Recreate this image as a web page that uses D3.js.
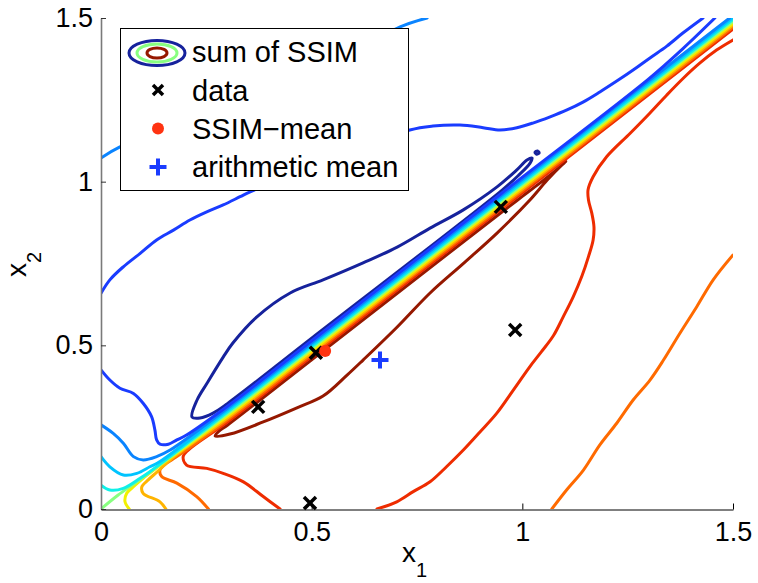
<!DOCTYPE html>
<html><head><meta charset="utf-8">
<script src="https://cdn.jsdelivr.net/npm/d3@7"></script>
<style>
body{margin:0;background:#fff;}
svg{display:block;font-family:"Liberation Sans",Arial,Helvetica,sans-serif;}
</style></head><body>
<svg id="chart" width="758" height="583"></svg>
<script>
// ---- axis ticks ----
const tickValues = [0, 0.5, 1, 1.5];
const tickLabels = ["0", "0.5", "1", "1.5"];

// ---- samples and estimates ----
const dataX1 = [0.373, 0.510, 0.949, 0.983, 0.496];
const dataX2 = [0.312, 0.477, 0.923, 0.547, 0.018];
const ssimMean = [0.532, 0.483];

// ---- contour colours, lowest level (0) to highest (10), jet map ----
const levelColors = ["#16229c", "#1a3cff", "#0a84ff", "#00c4ff", "#10f0e8", "#88ff80",
                     "#f2f000", "#ffb400", "#ff6a00", "#ee2c00", "#951800"];

// ---- contour polylines of the summed SSIM, [x1, x2] ----
const lvl0Loop = [[0.216,0.281],[0.228,0.333],[0.252,0.385],[0.290,0.464],[0.313,0.507],[0.370,0.587],[0.449,0.660],[0.527,0.700],[0.622,0.752],[0.703,0.800],[0.781,0.858],[0.859,0.913],[0.940,0.984],[0.987,1.036],[1.011,1.066],[1.023,1.072],[1.018,1.056],[0.990,1.018],[0.950,0.972],[0.500,0.522],[0.300,0.322],[0.266,0.293],[0.235,0.278]];
const lvl0Dot = [[1.030,1.090],[1.036,1.094],[1.040,1.088],[1.034,1.084]];
const lvl1Upper = [[0,0.659],[0.021,0.700],[0.053,0.740],[0.093,0.781],[0.132,0.822],[0.172,0.852],[0.211,0.883],[0.251,0.908],[0.290,0.929],[0.330,0.954],[0.354,0.969],[0.544,1.066],[0.733,1.158],[0.788,1.170],[0.852,1.173],[0.907,1.165],[0.947,1.158],[0.987,1.165],[1.025,1.179],[1.066,1.198],[1.106,1.219],[1.144,1.243],[1.184,1.274],[1.225,1.308],[1.263,1.341],[1.303,1.378],[1.343,1.414],[1.381,1.454],[1.429,1.5]];
const lvl1Lower = [[0,0.425],[0.021,0.394],[0.045,0.369],[0.077,0.353],[0.100,0.323],[0.120,0.282],[0.128,0.241],[0.132,0.211],[0.140,0.198],[0.160,0.198],[0.180,0.211],[0.203,0.226],[0.3,0.314],[0.5,0.514],[0.95,0.964],[1.3,1.314],[1.38,1.405],[1.457,1.5]];
const lvl2Upper = [[0,1.072],[0.045,1.106],[0.235,1.201],[0.472,1.317],[0.710,1.473],[0.774,1.5]];
const lvl2Lower = [[0,0.257],[0.029,0.231],[0.053,0.201],[0.077,0.160],[0.100,0.150],[0.132,0.160],[0.164,0.180],[0.3,0.308],[0.5,0.508],[0.95,0.958],[1.3,1.308],[1.492,1.5]];
const lvl3 = [[0,0.160],[0.021,0.129],[0.053,0.104],[0.085,0.109],[0.116,0.129],[0.140,0.145],[0.3,0.302],[0.5,0.502],[0.95,0.952],[1.3,1.302],[1.498,1.5]];
const lvl4 = [[0,0.073],[0.021,0.058],[0.053,0.063],[0.093,0.094],[0.116,0.114],[0.3,0.296],[0.5,0.496],[0.95,0.946],[1.3,1.296],[1.5,1.496]];
const lvl5 = [[0,0],[0.04,0.042],[0.09,0.088],[0.3,0.290],[0.5,0.490],[0.95,0.940],[1.3,1.290],[1.5,1.49]];
const lvl6 = [[0.067,0],[0.057,0.022],[0.061,0.048],[0.077,0.068],[0.100,0.094],[0.3,0.284],[0.5,0.484],[0.95,0.934],[1.3,1.284],[1.5,1.484]];
const lvl7 = [[0.154,0],[0.140,0.022],[0.100,0.048],[0.097,0.068],[0.112,0.089],[0.132,0.112],[0.170,0.156],[0.3,0.278],[0.5,0.478],[0.95,0.928],[1.3,1.278],[1.5,1.478]];
const lvl8Left = [[0.255,0],[0.227,0.038],[0.180,0.079],[0.144,0.099],[0.140,0.119],[0.156,0.140],[0.180,0.160],[0.3,0.272],[0.5,0.472],[0.95,0.922],[1.3,1.272],[1.5,1.472]];
const lvl8Right = [[1.070,0],[1.105,0.058],[1.145,0.119],[1.184,0.196],[1.224,0.262],[1.263,0.333],[1.303,0.394],[1.335,0.455],[1.374,0.537],[1.414,0.618],[1.453,0.700],[1.5,0.776]];
const lvl9Left = [[0.425,0],[0.385,0.038],[0.338,0.083],[0.290,0.109],[0.251,0.124],[0.203,0.134],[0.195,0.160],[0.207,0.180],[0.3,0.266],[0.5,0.466],[0.95,0.916],[1.3,1.266],[1.5,1.466]];
const lvl9Right = [[0.655,0],[0.702,0.022],[0.741,0.053],[0.781,0.083],[0.820,0.129],[0.860,0.180],[0.900,0.236],[0.939,0.292],[0.979,0.364],[1.018,0.435],[1.045,0.480],[1.074,0.530],[1.097,0.587],[1.121,0.649],[1.141,0.710],[1.157,0.771],[1.168,0.822],[1.170,0.862],[1.165,0.903],[1.157,0.944],[1.156,0.975],[1.168,1.015],[1.200,1.076],[1.256,1.148],[1.303,1.210],[1.343,1.265],[1.382,1.316],[1.421,1.362],[1.461,1.402],[1.5,1.433]];
const lvl10Loop = [[0.271,0.223],[0.306,0.229],[0.385,0.266],[0.465,0.309],[0.527,0.345],[0.584,0.409],[0.622,0.455],[0.703,0.556],[0.781,0.660],[0.859,0.749],[0.940,0.843],[1.018,0.944],[1.059,1.005],[1.097,1.055],[1.103,1.062],[1.080,1.035],[1.040,0.994],[1.000,0.955],[0.950,0.906],[0.500,0.456],[0.300,0.256],[0.280,0.238]];

const contourSet = [
  [0, lvl0Loop, true], [0, lvl0Dot, true],
  [1, lvl1Upper, false], [2, lvl2Upper, false],
  [8, lvl8Right, false], [9, lvl9Right, false],
  [10, lvl10Loop, true],
  [9, lvl9Left, false], [8, lvl8Left, false], [7, lvl7, false], [6, lvl6, false],
  [5, lvl5, false], [4, lvl4, false], [3, lvl3, false], [2, lvl2Lower, false], [1, lvl1Lower, false]
];

const x = d3.scaleLinear().domain([0, 1.5]).range([101, 733]);
const y = d3.scaleLinear().domain([0, 1.5]).range([509, 18]);

const svg = d3.select("#chart");

svg.append("defs").append("clipPath").attr("id", "plotClip")
  .append("rect").attr("x", x(0)).attr("y", y(1.5))
  .attr("width", x(1.5) - x(0)).attr("height", y(0) - y(1.5));

const openLine = d3.line().x(d => x(d[0])).y(d => y(d[1])).curve(d3.curveCatmullRom.alpha(0.5));
const closedLine = d3.line().x(d => x(d[0])).y(d => y(d[1])).curve(d3.curveCatmullRomClosed.alpha(0.5));

const cg = svg.append("g").attr("clip-path", "url(#plotClip)");
cg.selectAll("path.contour").data(contourSet).join("path")
  .attr("class", "contour")
  .attr("d", d => (d[2] ? closedLine : openLine)(d[1]))
  .attr("fill", "none")
  .attr("stroke", d => levelColors[d[0]])
  .attr("stroke-width", 3)
  .attr("stroke-linejoin", "round")
  .attr("stroke-linecap", "round");

// ---- axes ----
const xAxis = d3.axisBottom(x).tickValues(tickValues).tickFormat((d, i) => tickLabels[i])
  .tickSizeInner(-6).tickSizeOuter(0).tickPadding(12);
const gx = svg.append("g").attr("transform", "translate(0,509.5)").call(xAxis);
gx.select(".domain").attr("stroke", "#000").attr("stroke-width", 1);
gx.selectAll(".tick line").attr("stroke", "#000");
gx.selectAll("text").attr("font-size", 27).attr("fill", "#000")
  .attr("font-family", "'Liberation Sans',Arial,sans-serif");

const yAxis = d3.axisLeft(y).tickValues(tickValues).tickFormat((d, i) => tickLabels[i])
  .tickSizeInner(-5).tickSizeOuter(0).tickPadding(8);
const gy = svg.append("g").attr("transform", "translate(101,0)").call(yAxis);
gy.select(".domain").attr("stroke", "#7a7a7a").attr("stroke-width", 1.6);
gy.selectAll(".tick line").attr("stroke", "#333");
gy.selectAll("text").attr("font-size", 27).attr("fill", "#000")
  .attr("font-family", "'Liberation Sans',Arial,sans-serif");

// axis titles
const xt = svg.append("text").attr("x", 402).attr("y", 562).attr("font-size", 28).attr("fill", "#000");
xt.append("tspan").text("x");
xt.append("tspan").attr("font-size", 20).attr("dy", 15).text("1");
const yt = svg.append("text").attr("transform", "translate(26,277) rotate(-90)").attr("font-size", 28).attr("fill", "#000");
yt.append("tspan").text("x");
yt.append("tspan").attr("font-size", 20).attr("dy", 15).text("2");

// ---- markers ----
const dataPts = dataX1.map((v, i) => [v, dataX2[i]]);
const arithMean = [d3.mean(dataX1), d3.mean(dataX2)];
const cross = (g, cx, cy, s) => g.append("path")
  .attr("d", `M${cx - s},${cy - s}L${cx + s},${cy + s}M${cx - s},${cy + s}L${cx + s},${cy - s}`)
  .attr("stroke", "#000").attr("stroke-width", 3.5).attr("fill", "none");
const mg = svg.append("g");
dataPts.forEach(p => cross(mg, x(p[0]), y(p[1]), 6));
mg.append("circle").attr("cx", x(ssimMean[0])).attr("cy", y(ssimMean[1])).attr("r", 6).attr("fill", "#ff3311");
const plus = (g, cx, cy, s) => g.append("path")
  .attr("d", `M${cx - s},${cy}L${cx + s},${cy}M${cx},${cy - s}L${cx},${cy + s}`)
  .attr("stroke", "#1a3cff").attr("stroke-width", 4).attr("fill", "none");
plus(mg, x(arithMean[0]), y(arithMean[1]), 8.5);

// ---- legend ----
const lg = svg.append("g");
lg.append("rect").attr("x", 120.5).attr("y", 28.5).attr("width", 288).attr("height", 162)
  .attr("fill", "#fff").attr("stroke", "#000").attr("stroke-width", 1);
const legendRows = ["sum of SSIM", "data", "SSIM\u2212mean", "arithmetic mean"];
const rowBase = [62, 101, 139, 177];
lg.selectAll("text.lab").data(legendRows).join("text").attr("class", "lab")
  .attr("x", 192).attr("y", (d, i) => rowBase[i]).attr("font-size", 29).attr("fill", "#000").text(d => d);
const ell = [[28, 12.5, 0], [20, 9, 5], [10, 5, 10]];
ell.forEach(e => lg.append("ellipse").attr("cx", 157).attr("cy", 53).attr("rx", e[0]).attr("ry", e[1])
  .attr("fill", "none").attr("stroke", levelColors[e[2]]).attr("stroke-width", 3));
cross(lg, 158, 90, 5);
lg.append("circle").attr("cx", 158).attr("cy", 128.5).attr("r", 6).attr("fill", "#ff3311");
plus(lg, 158, 167, 8.5);
</script>
</body></html>
